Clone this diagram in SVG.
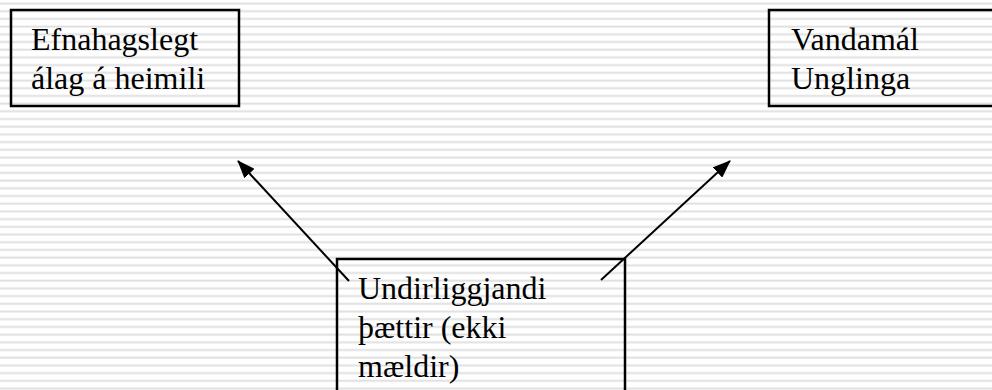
<svg xmlns="http://www.w3.org/2000/svg" width="992" height="390" viewBox="0 0 992 390">
<defs>
<pattern id="stripes" x="0" y="0" width="992" height="7.7" patternUnits="userSpaceOnUse">
<rect x="0" y="2.5" width="992" height="2" fill="#e0e0e0"/>
</pattern>
<marker id="ah" markerWidth="18" markerHeight="14" refX="17" refY="7" orient="auto" markerUnits="userSpaceOnUse">
<path d="M0,0 L18,7 L0,14 Z" fill="#000"/>
</marker>
<style>
.box{fill:none;stroke:#000;stroke-width:2.5}
.t{font-family:"Liberation Serif","Times New Roman",serif;font-size:32px;fill:#000}
.c{stroke:#000;stroke-width:2;fill:none}
</style>
</defs>
<rect width="992" height="390" fill="#fff"/>
<rect width="992" height="390" fill="url(#stripes)"/>
<g id="connectors">
<line class="c" x1="349" y1="281" x2="238" y2="161" marker-end="url(#ah)"/>
<line class="c" x1="601" y1="280" x2="730" y2="161" marker-end="url(#ah)"/>
</g>
<g id="node-efnahagslegt">
<rect class="box" x="11" y="10" width="228" height="96"/>
<text class="t" x="31" y="50">Efnahagslegt</text>
<text class="t" x="31" y="89">álag á heimili</text>
</g>
<g id="node-vandamal">
<rect class="box" x="769" y="10" width="240" height="96"/>
<text class="t" x="791" y="50">Vandamál</text>
<text class="t" x="791" y="89">Unglinga</text>
</g>
<g id="node-undirliggjandi">
<rect class="box" x="337" y="259" width="288" height="150"/>
<text class="t" x="358" y="299">Undirliggjandi</text>
<text class="t" x="358" y="338">þættir (ekki</text>
<text class="t" x="358" y="377">mældir)</text>
</g>
</svg>
